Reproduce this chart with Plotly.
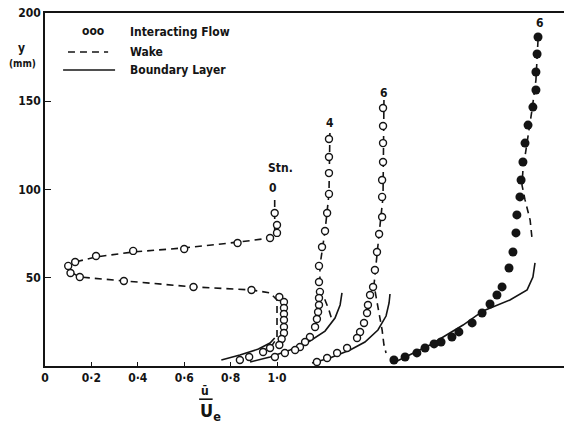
import plotly.graph_objects as go

# Velocity profiles u/Ue versus height y (mm) at successive stations.
# Each station after the first is drawn with its abscissa shifted to the right.

# Station 0
stn0_u = [0.99, 1.00, 1.00, 0.97, 0.83, 0.60, 0.38, 0.22, 0.13, 0.10, 0.11, 0.15, 0.34, 0.64,
          0.89, 1.01, 1.03, 1.03, 1.03, 1.03, 1.03, 1.03, 1.02, 1.01, 0.97, 0.94, 0.88, 0.84]
stn0_y = [86.7, 79.9, 75.4, 72.5, 69.7, 66.3, 65.2, 62.3, 58.9, 56.7, 52.7, 50.4, 48.2, 44.8,
          43.1, 39.1, 36.3, 32.9, 29.5, 26.1, 22.1, 18.7, 15.3, 11.9, 10.2, 7.9, 5.1, 3.4]
stn0_wake_u = [0.99, 0.99, 0.97, 0.84, 0.60, 0.38, 0.22, 0.13, 0.10, 0.11, 0.15, 0.34, 0.64,
               0.89, 0.97, 1.00, 1.00, 1.00, 0.98, 0.94]
stn0_wake_y = [94.1, 77.0, 72.5, 70.3, 66.9, 64.6, 61.8, 58.9, 56.7, 53.3, 50.4, 48.2, 44.8,
               43.1, 41.4, 37.4, 26.0, 15.9, 11.9, 9.1]
stn0_bl_u = [0.76, 0.84, 0.92, 0.97, 0.99]
stn0_bl_y = [3.4, 6.2, 9.6, 13.0, 15.9]

# Station 4
stn4_u = [0.984, 0.984, 0.984, 0.984, 0.976, 0.967, 0.954, 0.941, 0.941, 0.945, 0.941, 0.941,
          0.937, 0.932, 0.924, 0.902, 0.881, 0.859, 0.838, 0.794, 0.751]
stn4_y = [128.6, 118.4, 109.3, 97.5, 86.7, 76.5, 67.4, 56.7, 47.6, 42.0, 38.5, 34.6,
          30.6, 26.6, 22.1, 16.4, 13.6, 10.8, 9.1, 7.4, 5.1]
stn4_wake_u = [0.988, 0.984, 0.967, 0.945, 0.945, 0.967, 0.984, 0.997]
stn4_wake_y = [132.0, 97.5, 76.5, 56.7, 43.1, 37.4, 31.7, 26.1]
stn4_bl_u = [0.644, 0.730, 0.816, 0.902, 0.967, 1.010, 1.032, 1.040]
stn4_bl_y = [2.3, 5.1, 9.1, 14.2, 19.8, 27.2, 34.6, 41.4]

# Station 6
stn6_u = [0.987, 0.987, 0.987, 0.987, 0.983, 0.983, 0.983, 0.970, 0.961, 0.952, 0.944, 0.931,
          0.922, 0.918, 0.905, 0.888, 0.875, 0.832, 0.789, 0.746, 0.702]
stn6_y = [146.2, 136.0, 126.3, 115.6, 105.4, 95.8, 84.4, 74.8, 64.6, 54.4, 44.8, 40.2,
          34.6, 30.0, 24.4, 19.3, 15.9, 10.2, 7.4, 4.5, 2.3]
stn6_wake_u = [0.991, 0.987, 0.970, 0.948, 0.961, 0.974, 0.983, 0.991, 1.000]
stn6_wake_y = [150.7, 95.8, 74.8, 45.9, 36.3, 27.8, 20.4, 11.9, 7.4]
stn6_bl_u = [0.681, 0.758, 0.845, 0.909, 0.965, 1.000, 1.013, 1.017]
stn6_bl_y = [1.7, 4.5, 9.1, 13.6, 20.4, 28.3, 35.7, 40.8]

# Station 6 (solid symbols)
stn6b_u = [0.985, 0.981, 0.976, 0.976, 0.963, 0.942, 0.929, 0.920, 0.912, 0.907, 0.894, 0.890,
           0.877, 0.860, 0.830, 0.808, 0.778, 0.744, 0.701, 0.644, 0.614, 0.567, 0.537, 0.498,
           0.463, 0.412, 0.364]
stn6b_y = [186.4, 176.8, 166.6, 156.4, 146.7, 136.5, 126.3, 115.6, 105.4, 95.8, 85.6, 75.4,
           64.6, 55.5, 44.8, 40.2, 35.1, 30.0, 24.4, 19.3, 16.4, 13.6, 12.5, 10.2,
           7.4, 5.1, 3.4]
stn6b_wake_u = [0.985, 0.976, 0.959, 0.938, 0.920, 0.916, 0.929, 0.951, 0.959]
stn6b_wake_y = [184.7, 162.0, 145.0, 128.0, 111.0, 102.5, 94.1, 82.7, 72.5]
stn6b_bl_u = [0.369, 0.519, 0.662, 0.748, 0.864, 0.938, 0.963, 0.972]
stn6b_bl_y = [2.3, 11.9, 23.2, 31.2, 37.4, 43.1, 50.4, 58.4]

# Horizontal shift applied to each station's profile
offsets = {"0": 0.0, "4": 0.24, "6": 0.47, "6b": 1.14}

x_ticks = [0, 0.2, 0.4, 0.6, 0.8, 1.0]
x_ticktext = ["0", "0·2", "0·4", "0·6", "0·8", "1·0"]
y_ticks = [50, 100, 150, 200]
y_ticktext = ["50", "100", "150", "200"]

INK = "#141414"
FONT = dict(family="DejaVu Sans Condensed, DejaVu Sans, sans-serif", size=12,
            color=INK, weight="bold")
DASH = "7px,5px"


def shift(values, key):
    return [v + offsets[key] for v in values]


fig = go.Figure()

stations = [
    ("0", stn0_u, stn0_y, stn0_wake_u, stn0_wake_y, stn0_bl_u, stn0_bl_y, False),
    ("4", stn4_u, stn4_y, stn4_wake_u, stn4_wake_y, stn4_bl_u, stn4_bl_y, False),
    ("6", stn6_u, stn6_y, stn6_wake_u, stn6_wake_y, stn6_bl_u, stn6_bl_y, False),
    ("6b", stn6b_u, stn6b_y, stn6b_wake_u, stn6b_wake_y, stn6b_bl_u, stn6b_bl_y, True),
]

for key, u, y, wu, wy, bu, by, filled in stations:
    fig.add_trace(go.Scatter(
        x=shift(wu, key), y=wy, mode="lines",
        line=dict(color=INK, width=1.6, dash=DASH), hoverinfo="skip"))
    fig.add_trace(go.Scatter(
        x=shift(bu, key), y=by, mode="lines",
        line=dict(color=INK, width=1.6), hoverinfo="skip"))
    if filled:
        marker = dict(symbol="circle", size=9, color=INK, line=dict(color=INK, width=0))
    else:
        marker = dict(symbol="circle", size=7, color="white", line=dict(color=INK, width=1.4))
    fig.add_trace(go.Scatter(x=shift(u, key), y=y, mode="markers", marker=marker))

annotations = []


def label(text, x, y, size=12, xanchor="center", xref="x", yref="y"):
    annotations.append(dict(text=text, x=x, y=y, xref=xref, yref=yref, showarrow=False,
                            xanchor=xanchor, yanchor="middle",
                            font=dict(FONT, size=size)))


# station labels
label("Stn.", 1.017, 112.2)
label("0", 0.983, 100.8)
label("4", 1.228, 137.7)
label("6", 1.461, 154.7)
label("6", 2.134, 194.3)

# key
label("ooo", 0.207, 189.8, size=12)
label("Interacting Flow", 0.358, 189.2, xanchor="left")
label("Wake", 0.358, 177.9, xanchor="left")
label("Boundary Layer", 0.358, 167.7, xanchor="left")

# axis titles
label("y", -0.046, 0.900, xref="paper", yref="paper")
label("(mm)", -0.044, 0.856, size=10, xref="paper", yref="paper")
label("ū", 0.309, -0.072, size=12, xref="paper", yref="paper")
label("U<sub>e</sub>", 0.318, -0.130, size=18, xref="paper", yref="paper")

shapes = [
    dict(type="line", xref="x", yref="y", x0=0.099, x1=0.272, y0=177.9, y1=177.9,
         line=dict(color=INK, width=1.6, dash=DASH)),
    dict(type="line", xref="x", yref="y", x0=0.078, x1=0.302, y0=167.7, y1=167.7,
         line=dict(color=INK, width=1.6)),
    dict(type="line", xref="paper", yref="paper", x0=0.297, x1=0.323, y0=-0.094, y1=-0.094,
         line=dict(color=INK, width=1.6)),
]

fig.update_layout(
    width=564, height=428,
    margin=dict(l=45, r=0, t=13, b=62),
    paper_bgcolor="white", plot_bgcolor="white",
    showlegend=False,
    font=FONT,
    annotations=annotations,
    shapes=shapes,
    xaxis=dict(range=[0, 2.237], tickvals=x_ticks, ticktext=x_ticktext,
               ticks="inside", ticklen=4, tickwidth=1.2, tickcolor=INK,
               showline=True, linecolor=INK, linewidth=1.6, mirror=True,
               showgrid=False, zeroline=False, tickfont=FONT),
    yaxis=dict(range=[0, 200], tickvals=y_ticks, ticktext=y_ticktext,
               ticks="inside", ticklen=6, tickwidth=1.2, tickcolor=INK,
               showline=True, linecolor=INK, linewidth=1.6,
               showgrid=False, zeroline=False, tickfont=FONT),
)

fig.write_html("out.html")
